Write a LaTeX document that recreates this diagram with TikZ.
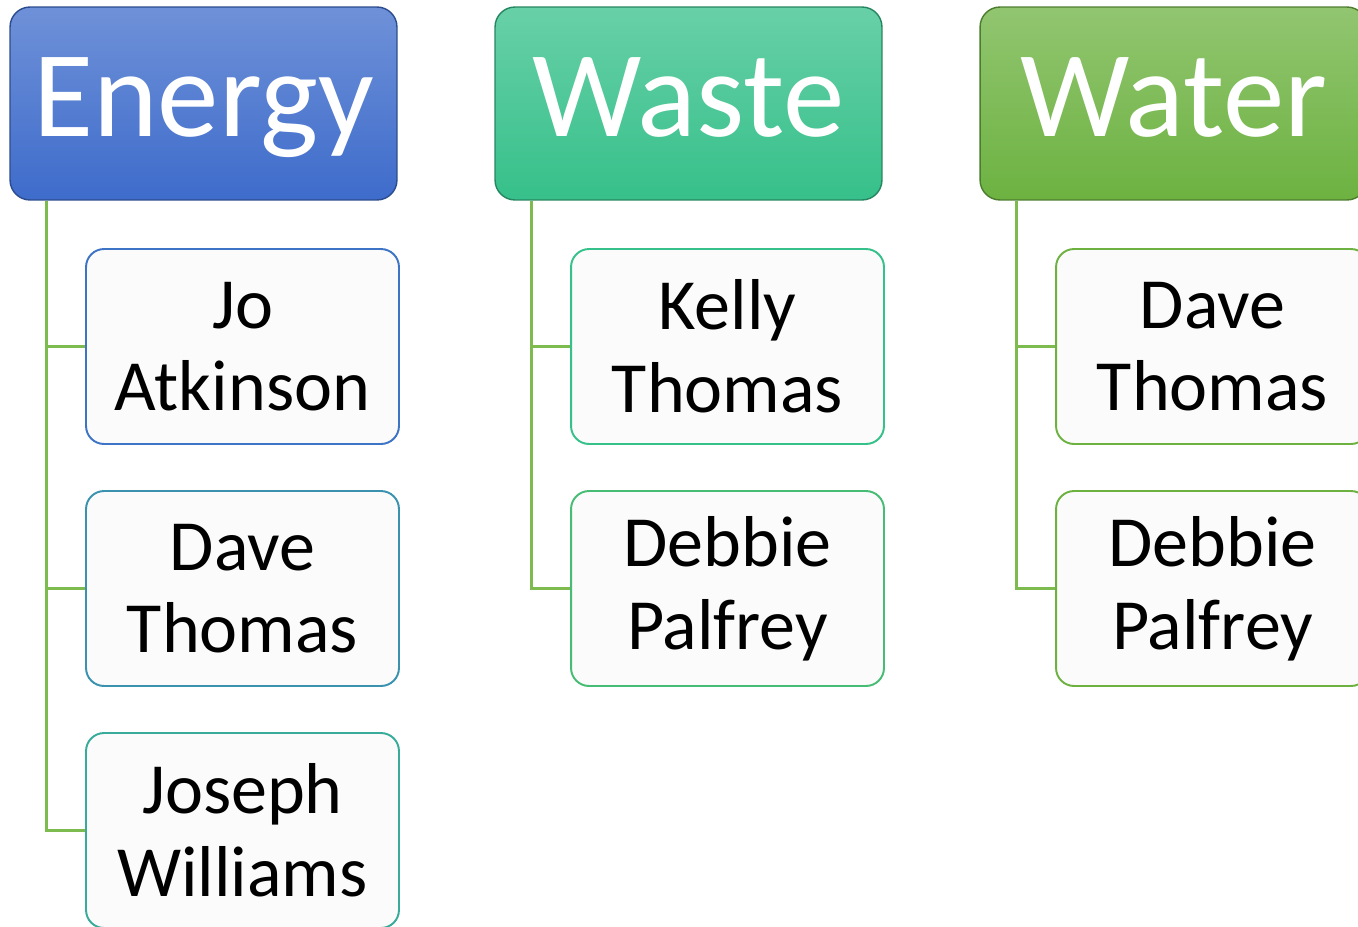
\documentclass[tikz,border=0pt]{standalone}
\usepackage{fontspec}
\setmainfont{Carlito}
\usepackage{tikz}

\definecolor{energyc}{HTML}{3E6CCB}
\definecolor{wastec}{HTML}{36C08A}
\definecolor{waterc}{HTML}{6DB241}
\definecolor{linkc}{HTML}{7DBB4E}

\begin{document}
\begin{tikzpicture}[x=0.02cm, y=-0.02cm,
  head/.style={draw=#1!70!black, line width=0.8pt, top color=#1!75!white, bottom color=#1,
    rounded corners=0.4cm, minimum width=7.74cm, minimum height=3.86cm, inner sep=0pt,
    text height=1.6cm, text depth=0.26cm,
    text=white, font=\fontsize{70}{72}\selectfont},
  member/.style={draw=#1, line width=1.1pt, fill=black!1.5, rounded corners=0.36cm,
    minimum width=6.26cm, minimum height=3.9cm, inner sep=0pt, align=center,
    font=\fontsize{41}{47}\selectfont},
  link/.style={draw=linkc, line width=1.4pt}]
\useasboundingbox (0,0) rectangle (1358,926);
\clip (0,0) rectangle (1358,926);
% headers
\node [head=energyc] (energy) at (203.5,103.5) {Energy};
\node [head=wastec] (waste) at (688.5,103.5) {Waste};
\node [head=waterc] (water) at (1173.5,103.5) {Water};
% people
\node [member=energyc!90!wastec] (e1) at (242.5,346.5) {Jo\\Atkinson};
\node [member=energyc!55!wastec] (e2) at (242.5,588.5) {Dave\\Thomas};
\node [member=energyc!25!wastec] (e3) at (242.5,830.5) {Joseph\\Williams};
\node [member=wastec] (w1) at (727.5,346.5) {Kelly\\Thomas};
\node [member=wastec!70!waterc] (w2) at (727.5,588.5) {Debbie\\Palfrey};
\node [member=waterc] (r1) at (1212.5,346.5) {Dave\\Thomas};
\node [member=waterc] (r2) at (1212.5,588.5) {Debbie\\Palfrey};
% connectors
\draw [link] (energy.south west) ++(37,0) |- (e1.west);
\draw [link] (energy.south west) ++(37,0) |- (e2.west);
\draw [link] (energy.south west) ++(37,0) |- (e3.west);
\draw [link] (waste.south west) ++(37,0) |- (w1.west);
\draw [link] (waste.south west) ++(37,0) |- (w2.west);
\draw [link] (water.south west) ++(37,0) |- (r1.west);
\draw [link] (water.south west) ++(37,0) |- (r2.west);
\end{tikzpicture}
\end{document}
